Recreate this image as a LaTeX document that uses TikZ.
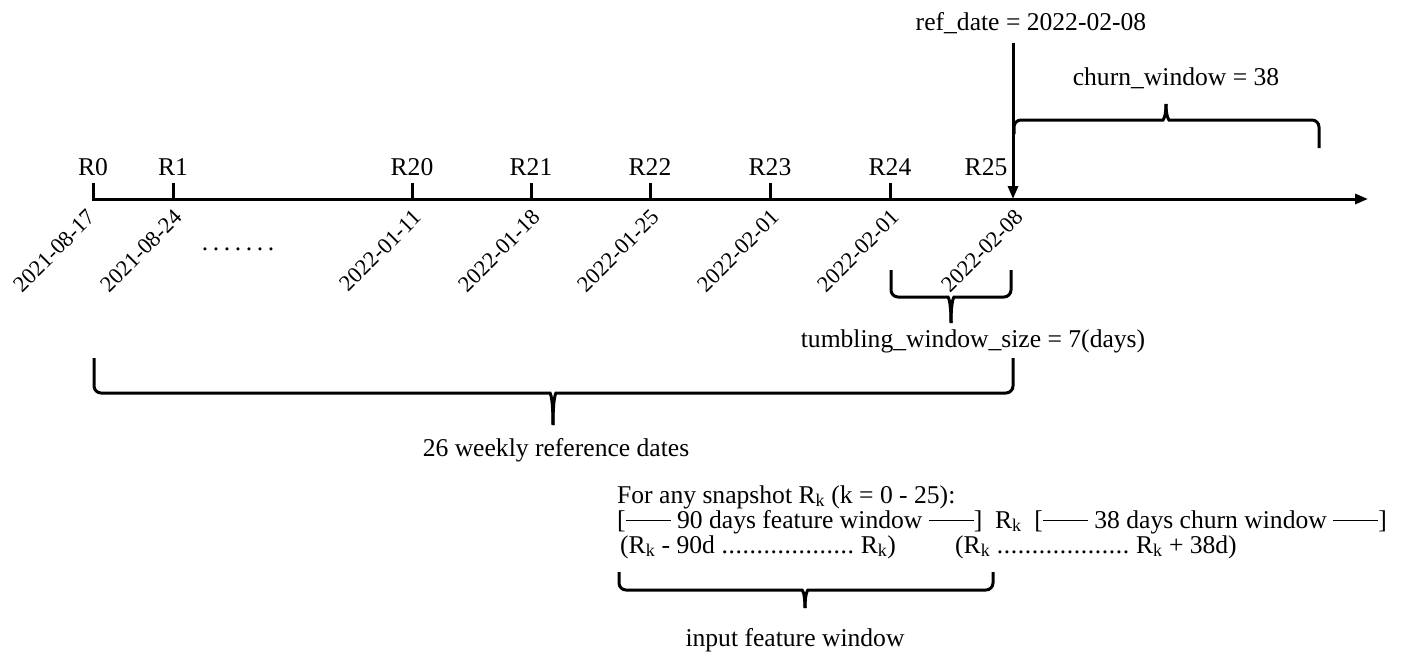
\documentclass[tikz,border=0pt]{standalone}
\usepackage{fontspec}
\setmainfont{Liberation Serif}
\usetikzlibrary{arrows.meta}
\newcommand\mydashrule{\rule[6.6pt]{45pt}{1.1pt}}
\newcommand\mydotrow[2]{\hbox to #1{\leaders\hbox to #2{\hss.\hss}\hfill}}
\begin{document}
\begin{tikzpicture}[x=1pt,y=-1pt,
  txt/.style={font=\fontsize{25.6}{30}\selectfont, inner sep=0pt},
  datetxt/.style={font=\fontsize{22.5}{26}\selectfont, inner sep=0pt, rotate=45, anchor=north east},
  axisline/.style={line width=3pt},
  braceline/.style={line width=3pt, rounded corners=7pt},
  tip/.style={-{Triangle[length=13pt,width=10pt]}}]
\useasboundingbox (0,0) rectangle (1402,661);

% axis
\coordinate (a0) at (92,199);
\coordinate (aend) at (1368,199);
\draw[axisline, tip] (a0) -- (aend);

% ticks, labels, dates
\foreach \nm/\x/\dx/\dt in {R0/93/-7/2021-08-17, R1/173/0/2021-08-24, R20/412/0/2022-01-11,
    R21/531/0/2022-01-18, R22/650/0/2022-01-25, R23/770/0/2022-02-01, R24/890/0/2022-02-01}{
  \coordinate (t\nm) at (\x,199);
  \coordinate (u\nm) at (\x,183);
  \draw[axisline] (t\nm) -- (u\nm);
  \node[txt, anchor=base] (l\nm) at (\x,175) {\nm};
  \node[datetxt] (d\nm) at (\x+\dx,208) {\dt};
}
% R25 with ref_date arrow
\coordinate (tR25) at (1013,199);
\coordinate (rtop) at (1013,43);
\node[txt, anchor=base] (lR25) at (986,175) {R25};
\node[datetxt] (dR25) at (1014,208) {2022-02-08};
\draw[axisline, tip] (rtop) -- (tR25);
\node[txt, anchor=base] (ref) at (1031,31) {ref\_date = 2022-02-08};

\node[txt, anchor=base] (dots) at (238,250) {\mydotrow{77pt}{11pt}};

% churn brace (tip up)
\draw[braceline] (1014,134) -- (1014,120) -- (1156,120) .. controls (1163,120) and (1166,117) .. (1166,104);
\draw[braceline] (1319,148) -- (1319,120) -- (1176,120) .. controls (1169,120) and (1166,117) .. (1166,104);
\node[txt, anchor=base] (churn) at (1176,85) {churn\_window = 38};

% tumbling brace
\draw[braceline] (891,270) -- (891,297) -- (941,297) .. controls (948,297) and (951,300) .. (951,323);
\draw[braceline] (1011,270) -- (1011,297) -- (961,297) .. controls (954,297) and (951,300) .. (951,323);
\node[txt, anchor=base] (tumb) at (973,347) {tumbling\_window\_size = 7(days)};

% 26 weekly brace
\draw[braceline] (94,358) -- (94,393) -- (543,393) .. controls (550,393) and (553,396) .. (553,425);
\draw[braceline] (1013,358) -- (1013,393) -- (563,393) .. controls (556,393) and (553,396) .. (553,425);
\node[txt, anchor=base] (weekly) at (556,456) {26 weekly reference dates};

% snapshot text
\node[txt, anchor=base west] (s1) at (617,503) {For any snapshot R\textsubscript{k} (k = 0 - 25):};
\node[txt, anchor=base west] (s2) at (617,528) {[\mydashrule\ 90 days feature window \mydashrule]\ \ R\textsubscript{k}\ \ [\mydashrule\ 38 days churn window \mydashrule]};
\node[txt, anchor=base west] (s3) at (620,553) {(R\textsubscript{k} - 90d \mydotrow{133pt}{7pt} R\textsubscript{k})};
\node[txt, anchor=base west] (s4) at (955,553) {(R\textsubscript{k} \mydotrow{133pt}{7pt} R\textsubscript{k} + 38d)};

% input feature brace
\draw[braceline] (619,572) -- (619,590) -- (795,590) .. controls (802,590) and (805,592) .. (805,608);
\draw[braceline] (993,572) -- (993,590) -- (815,590) .. controls (808,590) and (805,592) .. (805,608);
\node[txt, anchor=base] (input) at (795,646) {input feature window};
\end{tikzpicture}
\end{document}
